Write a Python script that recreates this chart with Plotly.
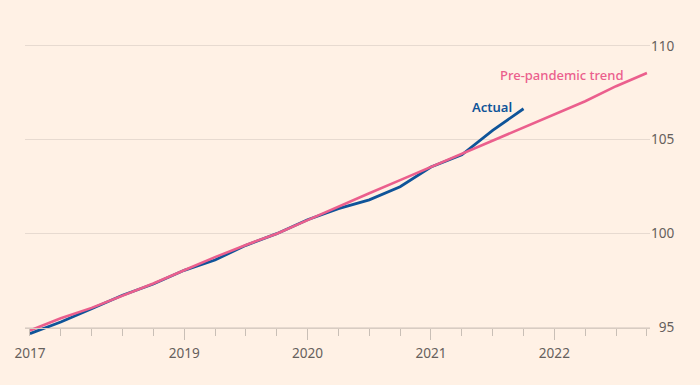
import plotly.graph_objects as go

# Quarterly index positions (0 = first quarter shown)
quarters = list(range(21))
actual_q = list(range(17))

trend_values = [94.85, 95.5, 96.05, 96.7, 97.35, 98.05, 98.75, 99.4, 100.0, 100.72,
                101.45, 102.15, 102.85, 103.55, 104.22, 104.95, 105.65, 106.35,
                107.05, 107.85, 108.55]
actual_values = [94.68, 95.3, 96.0, 96.72, 97.32, 98.05, 98.6, 99.38, 100.0, 100.74,
                 101.33, 101.8, 102.5, 103.55, 104.2, 105.5, 106.65]

year_tick_pos = [5, 9, 13, 17]
year_tick_text = ["2019", "2020", "2021", "2022"]
first_tick_pos = [0]
first_tick_text = ["2017"]

y_tick_vals = [95, 100, 105, 110]
y_tick_text = ["\u200795", "100", "105", "110"]

BG = "#FFF1E5"
PINK = "#EB5F8D"
BLUE = "#0F5499"
GRID = "#E7DAD0"
TICKC = "#C9BFB6"
TXT = "#66605C"
FONT = "Noto Sans"
TICKSIZE = 13.6

fig = go.Figure()
fig.add_trace(go.Scatter(x=quarters, y=trend_values, mode="lines",
                         line=dict(color=PINK, width=2.6), xaxis="x2",
                         hoverinfo="skip", showlegend=False))
fig.add_trace(go.Scatter(x=actual_q, y=actual_values, mode="lines",
                         line=dict(color=BLUE, width=2.8),
                         hoverinfo="skip", showlegend=False))

y_lo, y_hi = 94.5, 111
pos95 = (95 - y_lo) / (y_hi - y_lo)

fig.update_layout(
    width=700, height=385,
    margin=dict(l=25, r=50, t=27, b=48),
    paper_bgcolor=BG, plot_bgcolor=BG,
    font=dict(family=FONT, size=13, color=TXT),
    xaxis=dict(range=[-0.16, 20.1], anchor="free", position=pos95,
               tickmode="array", tickvals=year_tick_pos, ticktext=year_tick_text,
               ticks="outside", ticklen=11, tickcolor=TICKC, tickwidth=1,
               ticklabelstandoff=2,
               showline=True, linecolor="#D8CCC2", linewidth=1,
               showgrid=False, zeroline=False,
               minor=dict(tickmode="array", tickvals=quarters, ticks="outside",
                          ticklen=7, tickcolor=TICKC, tickwidth=1, showgrid=False),
               tickfont=dict(family=FONT, size=TICKSIZE, color=TXT)),
    xaxis2=dict(overlaying="x", matches="x", anchor="free", position=pos95,
                side="bottom",
                tickmode="array", tickvals=first_tick_pos, ticktext=first_tick_text,
                ticks="outside", ticklen=7, tickcolor=TICKC, tickwidth=1,
                ticklabelstandoff=6,
                showline=False, showgrid=False, zeroline=False,
                tickfont=dict(family=FONT, size=TICKSIZE, color=TXT)),
    yaxis=dict(range=[y_lo, y_hi], side="right", tickmode="array",
               tickvals=y_tick_vals, ticktext=y_tick_text,
               showgrid=True, gridcolor=GRID, gridwidth=1, zeroline=False,
               ticks="", showline=False,
               tickfont=dict(family=FONT, size=TICKSIZE, color=TXT)),
    annotations=[
        dict(x=19.3, y=108.42, xref="x", yref="y", text="Pre-pandemic trend",
             showarrow=False, xanchor="right", yanchor="middle",
             font=dict(family=FONT, size=13, color=PINK, weight=500)),
        dict(x=15.7, y=106.73, xref="x", yref="y", text="Actual",
             showarrow=False, xanchor="right", yanchor="middle",
             font=dict(family=FONT, size=13, color=BLUE, weight=600)),
    ],
)

fig.write_html("out.html", config={"displayModeBar": False, "staticPlot": True})

# remove the browser's default body margin so the figure fills the window
with open("out.html", "r", encoding="utf-8") as f:
    html = f.read()
html = html.replace("<head>", "<head><style>html,body{margin:0;padding:0;background:#FFF1E5;}</style>", 1)
with open("out.html", "w", encoding="utf-8") as f:
    f.write(html)
